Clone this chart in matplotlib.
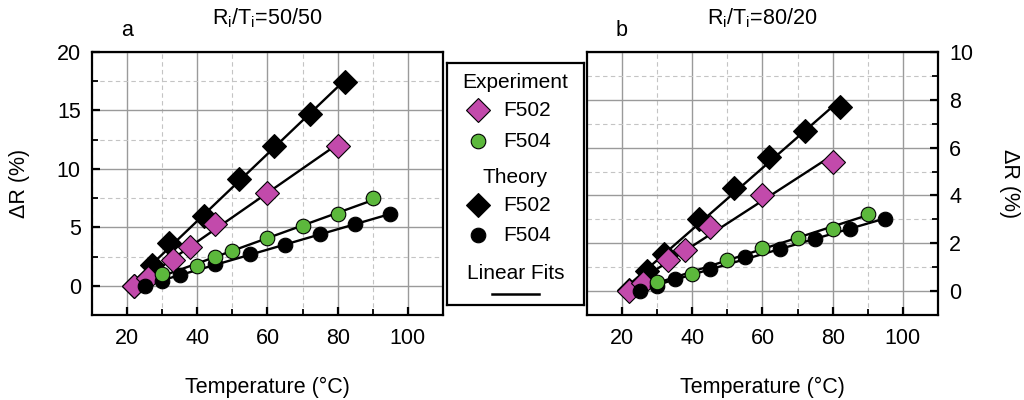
import numpy as np
import matplotlib
matplotlib.use("Agg")
import matplotlib.pyplot as plt
from matplotlib.ticker import MultipleLocator

plt.rcParams['font.family'] = ['Liberation Sans', 'DejaVu Sans']
plt.rcParams['mathtext.fontset'] = 'custom'
plt.rcParams['mathtext.rm'] = 'Liberation Sans'

MAGENTA = "#c24aab"
GREEN = "#5cb83c"

# Panel a: Ri/Ti = 50/50
a_exp502_x = [22, 26, 33, 38, 45, 60, 80]
a_exp502_y = [0, 0.7, 2.2, 3.3, 5.3, 7.9, 12.0]
a_exp504_x = [30, 40, 45, 50, 60, 70, 80, 90]
a_exp504_y = [1.0, 1.7, 2.5, 3.0, 4.1, 5.1, 6.1, 7.5]
a_th502_x = [22, 27, 32, 42, 52, 62, 72, 82]
a_th502_y = [0, 1.8, 3.7, 6.0, 9.1, 12.0, 14.7, 17.4]
a_th504_x = [25, 30, 35, 45, 55, 65, 75, 85, 95]
a_th504_y = [0, 0.4, 0.95, 1.85, 2.7, 3.5, 4.4, 5.3, 6.1]

# Panel b: Ri/Ti = 80/20
b_exp502_x = [22, 26, 33, 38, 45, 60, 80]
b_exp502_y = [0, 0.35, 1.3, 1.7, 2.7, 4.0, 5.4]
b_exp504_x = [30, 40, 50, 60, 70, 80, 90]
b_exp504_y = [0.38, 0.73, 1.32, 1.81, 2.23, 2.6, 3.24]
b_th502_x = [22, 27, 32, 42, 52, 62, 72, 82]
b_th502_y = [0.05, 0.85, 1.55, 3.0, 4.3, 5.6, 6.7, 7.7]
b_th504_x = [25, 30, 35, 45, 55, 65, 75, 85, 95]
b_th504_y = [0, 0.2, 0.52, 0.93, 1.42, 1.77, 2.19, 2.6, 3.0]

FS = 15.5
MS_D = 12
MS_O = 10.5


def fit_line(ax, x, y):
    x = np.array(x, dtype=float)
    k, b = np.polyfit(x, y, 1)
    xs = np.array([x.min(), x.max()])
    ax.plot(xs, k * xs + b, color="black", linewidth=1.7, zorder=2)


def draw_panel(ax, series, ylim, ymaj, ymin):
    for x, y, marker, face in series:
        fit_line(ax, x, y)
    for x, y, marker, face in series:
        ax.plot(x, y, linestyle="none", marker=marker,
                markersize=MS_D if marker == "D" else MS_O,
                markerfacecolor=face, markeredgecolor="black",
                markeredgewidth=0.8, zorder=3)
    ax.set_xlim(10, 110)
    ax.set_ylim(*ylim)
    ax.xaxis.set_major_locator(MultipleLocator(20))
    ax.xaxis.set_minor_locator(MultipleLocator(10))
    ax.yaxis.set_major_locator(MultipleLocator(ymaj))
    ax.yaxis.set_minor_locator(MultipleLocator(ymin))
    ax.grid(which="major", color="#9a9a9a", linewidth=1.0, linestyle="-")
    ax.grid(which="minor", color="#c4c4c4", linewidth=0.8, linestyle=(0, (4, 3)))
    ax.set_axisbelow(True)
    for s in ax.spines.values():
        s.set_linewidth(1.6)
    ax.tick_params(which="major", direction="in", length=6, width=1.6, labelsize=FS)
    ax.tick_params(axis="x", which="major", pad=9)
    ax.tick_params(axis="y", which="major", pad=8)
    ax.tick_params(which="minor", direction="in", length=4, width=1.3)
    ax.set_xlabel("Temperature (°C)", fontsize=FS, va="center")
    ax.xaxis.set_label_coords(0.5, -0.274)


fig = plt.figure(figsize=(10.24, 4.0), dpi=100)
ax1 = fig.add_axes([0.0898, 0.2125, 0.3428, 0.6575])
ax2 = fig.add_axes([0.5732, 0.2125, 0.3428, 0.6575])

draw_panel(ax1, [
    (a_th502_x, a_th502_y, "D", "black"),
    (a_exp502_x, a_exp502_y, "D", MAGENTA),
    (a_th504_x, a_th504_y, "o", "black"),
    (a_exp504_x, a_exp504_y, "o", GREEN),
], (-2.5, 20), 5, 2.5)
ax1.set_ylabel("ΔR (%)", fontsize=FS, va="center")
ax1.yaxis.set_label_coords(-0.205, 0.5)

draw_panel(ax2, [
    (b_th502_x, b_th502_y, "D", "black"),
    (b_exp502_x, b_exp502_y, "D", MAGENTA),
    (b_th504_x, b_th504_y, "o", "black"),
    (b_exp504_x, b_exp504_y, "o", GREEN),
], (-1, 10), 2, 1)
ax2.yaxis.tick_right()
ax2.yaxis.set_label_position("right")
ax2.set_ylabel("ΔR (%)", fontsize=FS, rotation=270, va="center")
ax2.yaxis.set_label_coords(1.205, 0.5)

ax1.text(0.5, 1.13, r"R$_\mathregular{i}$/T$_\mathregular{i}$=50/50", transform=ax1.transAxes,
         ha="center", va="center", fontsize=FS)
ax1.text(0.1, 1.08, "a", transform=ax1.transAxes, ha="center", va="center", fontsize=FS)
ax2.text(0.5, 1.13, r"R$_\mathregular{i}$/T$_\mathregular{i}$=80/20", transform=ax2.transAxes,
         ha="center", va="center", fontsize=FS)
ax2.text(0.1, 1.08, "b", transform=ax2.transAxes, ha="center", va="center", fontsize=FS)

# legend box drawn as its own axes
lg = fig.add_axes([0.4365, 0.2375, 0.1338, 0.605])
lg.set_xlim(0, 1)
lg.set_ylim(0, 1)
lg.set_xticks([])
lg.set_yticks([])
for s in lg.spines.values():
    s.set_linewidth(1.6)

entries = [
    ("Experiment", None, None, 0.920),
    ("F502", "D", MAGENTA, 0.804),
    ("F504", "o", GREEN, 0.676),
    ("Theory", None, None, 0.528),
    ("F502", "D", "black", 0.413),
    ("F504", "o", "black", 0.289),
    ("Linear Fits", None, None, 0.131),
]
for label, marker, face, yy in entries:
    if marker is None:
        lg.text(0.5, yy, label, ha="center", va="center", fontsize=15)
    else:
        lg.plot([0.23], [yy], marker=marker, markersize=MS_D if marker == "D" else MS_O,
                markerfacecolor=face, markeredgecolor="black", markeredgewidth=0.8,
                linestyle="none")
        lg.text(0.41, yy, label, ha="left", va="center", fontsize=15)
lg.plot([0.33, 0.67], [0.045, 0.045], color="black", linewidth=1.8)

fig.savefig("out.png", dpi=100)
